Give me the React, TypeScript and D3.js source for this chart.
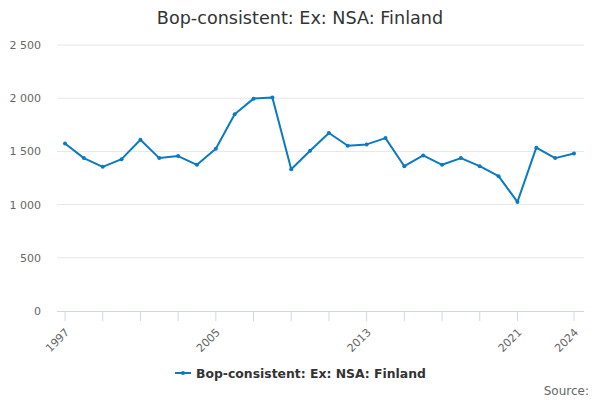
import React from "react";
import * as d3 from "d3";

const title = "Bop-consistent: Ex: NSA: Finland";
const years = [1997,1998,1999,2000,2001,2002,2003,2004,2005,2006,2007,2008,2009,2010,2011,2012,2013,2014,2015,2016,2017,2018,2019,2020,2021,2022,2023,2024];
const values = [1575,1437,1355,1427,1609,1437,1456,1374,1525,1849,1996,2006,1333,1506,1673,1553,1566,1625,1361,1462,1374,1437,1361,1267,1025,1535,1437,1481];
const yTicks = [0,500,1000,1500,2000,2500];
const xTicks = [1997,1999,2001,2003,2005,2007,2009,2011,2013,2015,2017,2019,2021,2024];
const xLabels = [1997,2005,2013,2021,2024];

const color = "#0a7bc1";
const font = "DejaVu Sans, sans-serif";

function fmt(v: number) {
  const s = String(v);
  return s.length > 3 ? s.slice(0, s.length - 3) + " " + s.slice(-3) : s;
}

export default function App() {
  const W = 600, H = 400;
  const left = 57, right = 584, top = 45, bottom = 311;
  const x = d3.scaleLinear().domain([1997, 2024]).range([65, 574]);
  const y = d3.scaleLinear().domain([0, 2500]).range([bottom, top]);
  const line = d3.line<number>().x((_, i) => x(years[i])).y((d) => y(d));
  return (
    <svg width={W} height={H} style={{ position: "absolute", left: 0, top: 0, fontFamily: font }}>
      <rect width={W} height={H} fill="#fff" />
      <text x={300} y={24} textAnchor="middle" fontSize={17.6} fill="#333">{title}</text>
      {yTicks.map((t) => (
        <g key={t}>
          {t > 0 && <line x1={left} x2={right} y1={y(t)} y2={y(t)} stroke="#e6e6e6" />}
          <text x={41} y={y(t) + 4} textAnchor="end" fontSize={11} fill="#666">{fmt(t)}</text>
        </g>
      ))}
      <line x1={left} x2={right} y1={bottom + 0.5} y2={bottom + 0.5} stroke="#ccd6eb" />
      {xTicks.map((t) => (
        <line key={t} x1={x(t)} x2={x(t)} y1={bottom} y2={bottom + 10} stroke="#ccd6eb" />
      ))}
      {xLabels.map((t) => (
        <text key={t} transform={`translate(${x(t) + 5},${bottom + 22}) rotate(-45)`} textAnchor="end" fontSize={11} fill="#666">{t}</text>
      ))}
      <path d={line(values) ?? ""} fill="none" stroke={color} strokeWidth={2} strokeLinejoin="round" />
      {values.map((v, i) => (
        <circle key={i} cx={x(years[i])} cy={y(v)} r={2} fill={color} />
      ))}
      <line x1={175} x2={191} y1={373} y2={373} stroke={color} strokeWidth={2} />
      <circle cx={183} cy={373} r={2} fill={color} />
      <text x={196} y={377.5} fontSize={12.4} fontWeight="bold" fill="#333">{title}</text>
      <text x={589} y={395} textAnchor="end" fontSize={12} fill="#666">Source:</text>
    </svg>
  );
}
